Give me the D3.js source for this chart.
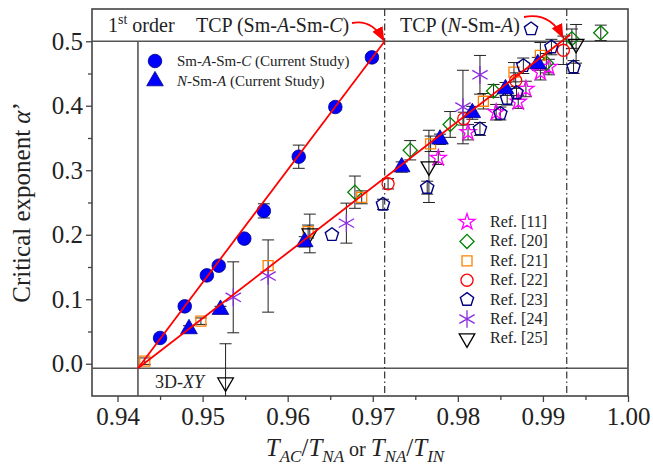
<!DOCTYPE html>
<html>
<head>
<meta charset="utf-8">
<script src="https://cdn.jsdelivr.net/npm/d3@7"></script>
<style>
  body { margin: 0; background: #fff; }
  text { font-family: "Liberation Serif", "Times New Roman", serif; fill: #222; }
</style>
</head>
<body>
<div id="chart"></div>
<script>
// [T ratio, alpha', error]
var smASmC = [[0.9450,0.040,0],[0.9479,0.089,0.005],[0.9505,0.137,0.005],[0.9519,0.152,0.005],[0.9549,0.194,0.005],
    [0.9572,0.237,0.011],[0.9613,0.321,0.018],[0.9656,0.398,0.005],[0.9699,0.475,0.005]]
var nSmA = [[0.9484,0.054,0.005],[0.9521,0.084,0.005],[0.9620,0.189,0.008],[0.9734,0.305,0.008],[0.9779,0.348,0.008],
    [0.9817,0.389,0.01],[0.9856,0.426,0.01],[0.9894,0.465,0.01]]
var ref11 = [[0.9777,0.319,0.01],[0.9812,0.359,0.012],[0.9845,0.390,0.012],[0.9871,0.406,0.01],[0.9880,0.426,0.012],
    [0.9897,0.452,0.012],[0.9907,0.460,0.012]]
var ref20 = [[0.9679,0.266,0.025],[0.9744,0.331,0.015],[0.9791,0.371,0.02],[0.9842,0.423,0.01],[0.9904,0.466,0.015],
    [0.9934,0.504,0.015],[0.9968,0.513,0.012]]
var ref21 = [[0.9432,0.004,0.005],[0.9498,0.066,0.005],[0.9577,0.152,0],[0.9624,0.205,0.01],[0.9687,0.258,0.01],
    [0.9768,0.341,0.012],[0.9830,0.407,0.012],[0.9866,0.452,0.015],[0.9897,0.478,0.02]]
var ref22 = [[0.9718,0.279,0.008],[0.9807,0.380,0.01],[0.9868,0.439,0.012],[0.9924,0.486,0.022]]
var ref23 = [[0.9652,0.200,0],[0.9712,0.247,0.008],[0.9764,0.273,0.01],[0.9826,0.364,0.01],[0.9850,0.388,0.01],
    [0.9858,0.411,0.01],[0.9869,0.420,0.01],[0.9877,0.462,0.012],[0.9910,0.491,0.012],[0.9936,0.460,0.01],[0.9886,0.519,0]]
var ref24 = [[0.9536,0.103,0.055],[0.9577,0.136,0.056],[0.9669,0.218,0.031],[0.9806,0.398,0.057],[0.9826,0.448,0.030]]
var ref25 = [[0.9527,-0.029,0.06],[0.9626,0.202,0.03],[0.9766,0.306,0.056],[0.9939,0.496,0.03]]

var fitSmC = [[0.9424,-0.007],[0.9714,0.5]]
var fitSmA = [[0.9424,-0.007],[0.9932,0.51]]
var firstOrderX = 0.9424, xyAlpha = -0.007, tcpAlpha = 0.5
var tcpSmC = 0.9714, tcpSmA = 0.9928

var xTicks = [0.94,0.95,0.96,0.97,0.98,0.99,1.00]
var yTicks = [0.0,0.1,0.2,0.3,0.4,0.5]

var W = 653, H = 472
var margin = {left: 92, top: 9, right: 25, bottom: 76}
var x = d3.scaleLinear().domain([0.937, 1.0]).range([margin.left, W - margin.right])
var y = d3.scaleLinear().domain([-0.05, 0.55]).range([H - margin.bottom, margin.top])

var svg = d3.select("#chart").append("svg").attr("width", W).attr("height", H)

svg.append("clipPath").attr("id", "plotclip").append("rect")
    .attr("x", x.range()[0]).attr("y", y.range()[1])
    .attr("width", x.range()[1] - x.range()[0]).attr("height", y.range()[0] - y.range()[1])

// axes, minor ticks at half steps
var isMajorX = function(d){ return xTicks.some(function(t){ return Math.abs(t - d) < 1e-6 }) }
var isMajorY = function(d){ return yTicks.some(function(t){ return Math.abs(t - d) < 1e-6 }) }
var xAxis = d3.axisBottom(x).tickValues(d3.range(0.94, 1.0001, 0.005)).tickSize(6)
    .tickFormat(function(d){ return isMajorX(d) ? d3.format(".2f")(d) : "" })
var gx = svg.append("g").attr("transform", "translate(0," + y.range()[0] + ")").call(xAxis)
gx.selectAll(".tick line").attr("y2", function(d){ return isMajorX(d) ? 6 : 4 })
var yAxis = d3.axisLeft(y).tickValues(d3.range(0, 0.5001, 0.05)).tickSize(6)
    .tickFormat(function(d){ return isMajorY(d) ? d3.format(".1f")(d) : "" })
var gy = svg.append("g").attr("transform", "translate(" + x.range()[0] + ",0)").call(yAxis)
gy.selectAll(".tick line").attr("x2", function(d){ return isMajorY(d) ? -6 : -4 })
svg.selectAll(".domain").remove()
svg.selectAll(".tick line").attr("stroke", "#444").attr("stroke-width", 1.3)
svg.selectAll(".tick text").style("font-size", "25px").attr("fill", "#222").style("font-family", "Liberation Serif")
gx.selectAll(".tick text").attr("dy", "0.85em").attr("y", 8)
gy.selectAll(".tick text").attr("x", -9)

svg.append("rect").attr("x", x.range()[0]).attr("y", y.range()[1])
    .attr("width", x.range()[1] - x.range()[0]).attr("height", y.range()[0] - y.range()[1])
    .attr("fill", "none").attr("stroke", "#444").attr("stroke-width", 1.6)

// reference lines
var refG = svg.append("g").attr("stroke", "#555").attr("stroke-width", 1.6)
refG.append("line").attr("x1", x.range()[0]).attr("x2", x.range()[1]).attr("y1", y(tcpAlpha)).attr("y2", y(tcpAlpha))
refG.append("line").attr("x1", x.range()[0]).attr("x2", x.range()[1]).attr("y1", y(xyAlpha)).attr("y2", y(xyAlpha))
refG.append("line").attr("x1", x(firstOrderX)).attr("x2", x(firstOrderX)).attr("y1", y(tcpAlpha)).attr("y2", y.range()[0])
;[tcpSmC, tcpSmA].forEach(function(t){
    svg.append("line").attr("x1", x(t)).attr("x2", x(t)).attr("y1", y.range()[1]).attr("y2", y.range()[0])
        .attr("stroke", "#333").attr("stroke-width", 1.2).attr("stroke-dasharray", "7,3,1.5,3")
})

// symbols
var pentagon = { draw: function(ctx, size){
    var r = Math.sqrt(size / 2.3776)
    for (var i = 0; i < 5; i++){
        var a = -Math.PI/2 + i * 2*Math.PI/5
        if (i === 0) ctx.moveTo(r*Math.cos(a), r*Math.sin(a)); else ctx.lineTo(r*Math.cos(a), r*Math.sin(a))
    }
    ctx.closePath()
}}
var asterisk = { draw: function(ctx, size){
    var r = Math.sqrt(size) / 1.6
    for (var i = 0; i < 3; i++){
        var a = -Math.PI/2 + i * Math.PI/3
        ctx.moveTo(r*Math.cos(a), r*Math.sin(a)); ctx.lineTo(-r*Math.cos(a), -r*Math.sin(a))
    }
}}

var series = [
    {data: smASmC, sym: d3.symbolCircle, size: 145, fill: "#0000ff", stroke: "#00008b", rot: 0, sw: 0.8},
    {data: nSmA, sym: d3.symbolTriangle, size: 120, fill: "#0000ff", stroke: "#00008b", rot: 0, sw: 0.8},
    {data: ref25, sym: d3.symbolTriangle, size: 105, fill: "none", stroke: "#000", rot: 180, sw: 1.3, name: "Ref. [25]"},
    {data: ref24, sym: asterisk, size: 200, fill: "none", stroke: "#8a2be2", rot: 0, sw: 1.3, name: "Ref. [24]"},
    {data: ref23, sym: pentagon, size: 115, fill: "none", stroke: "#000080", rot: 0, sw: 1.4, name: "Ref. [23]"},
    {data: ref22, sym: d3.symbolCircle, size: 115, fill: "none", stroke: "#ff0000", rot: 0, sw: 1.3, name: "Ref. [22]"},
    {data: ref21, sym: d3.symbolSquare, size: 100, fill: "none", stroke: "#ff8000", rot: 0, sw: 1.3, name: "Ref. [21]"},
    {data: ref20, sym: d3.symbolSquare, size: 100, fill: "none", stroke: "#008000", rot: 45, sw: 1.3, name: "Ref. [20]"},
    {data: ref11, sym: d3.symbolStar, size: 80, fill: "none", stroke: "#ff00ff", rot: 0, sw: 1.3, name: "Ref. [11]"}
]

var plot = svg.append("g").attr("clip-path", "url(#plotclip)")

// error bars
series.forEach(function(s){
    var eb = plot.append("g").attr("stroke", "#222").attr("stroke-width", 1)
    s.data.filter(function(d){ return d[2] > 0 }).forEach(function(d){
        var cx = x(d[0]), t = y(d[1] + d[2]), b = y(d[1] - d[2])
        eb.append("line").attr("x1", cx).attr("x2", cx).attr("y1", t).attr("y2", b)
        eb.append("line").attr("x1", cx - 6).attr("x2", cx + 6).attr("y1", t).attr("y2", t)
        eb.append("line").attr("x1", cx - 6).attr("x2", cx + 6).attr("y1", b).attr("y2", b)
    })
})

function drawSym(g, s, cx, cy){
    g.append("path").attr("d", d3.symbol().type(s.sym).size(s.size)())
        .attr("transform", "translate(" + cx + "," + cy + ") rotate(" + s.rot + ")")
        .attr("fill", s.fill).attr("stroke", s.stroke).attr("stroke-width", s.sw)
}
series.slice().reverse().forEach(function(s){
    s.data.forEach(function(d){ drawSym(plot, s, x(d[0]), y(d[1])) })
})

// fit lines
var line = d3.line().x(function(d){ return x(d[0]) }).y(function(d){ return y(d[1]) })
;[fitSmC, fitSmA].forEach(function(f){
    plot.append("path").attr("d", line(f)).attr("fill", "none").attr("stroke", "#ff0000").attr("stroke-width", 1.8)
})

// annotations
svg.append("defs").append("marker").attr("id", "arr").attr("viewBox", "0 0 10 10")
    .attr("refX", 9).attr("refY", 5).attr("markerWidth", 8).attr("markerHeight", 8).attr("orient", "auto")
    .append("path").attr("d", "M0,1 L10,5 L0,9 z").attr("fill", "#ff0000")
svg.append("path").attr("d", "M352,23 Q372,19 " + (x(tcpSmC) - 1) + "," + (y(tcpAlpha) - 1))
    .attr("fill", "none").attr("stroke", "#ff0000").attr("stroke-width", 1.8).attr("marker-end", "url(#arr)")
svg.append("path").attr("d", "M524,17 Q550,12 " + (x(tcpSmA) - 4) + "," + (y(tcpAlpha) - 4))
    .attr("fill", "none").attr("stroke", "#ff0000").attr("stroke-width", 1.8).attr("marker-end", "url(#arr)")

var t1 = svg.append("text").attr("x", 108).attr("y", 32).style("font-size", "20px")
t1.append("tspan").text("1")
t1.append("tspan").attr("dy", -8).style("font-size", "14px").text("st")
t1.append("tspan").attr("dy", 8).text(" order")

var t2 = svg.append("text").attr("x", 196).attr("y", 32).style("font-size", "20px")
t2.append("tspan").text("TCP (Sm-")
t2.append("tspan").style("font-style", "italic").text("A")
t2.append("tspan").text("-Sm-")
t2.append("tspan").style("font-style", "italic").text("C")
t2.append("tspan").text(")")

var t3 = svg.append("text").attr("x", 400).attr("y", 32).style("font-size", "20px")
t3.append("tspan").text("TCP (")
t3.append("tspan").style("font-style", "italic").text("N")
t3.append("tspan").text("-Sm-")
t3.append("tspan").style("font-style", "italic").text("A")
t3.append("tspan").text(")")

var t4 = svg.append("text").attr("x", 155).attr("y", 388).style("font-size", "18px")
t4.append("tspan").text("3D-")
t4.append("tspan").style("font-style", "italic").text("XY")

// legends
var leg1 = svg.append("g").style("font-size", "15px")
drawSym(leg1, series[0], 155, 61)
drawSym(leg1, series[1], 155, 81)
var l1 = leg1.append("text").attr("x", 177).attr("y", 66)
l1.append("tspan").text("Sm-")
l1.append("tspan").style("font-style", "italic").text("A")
l1.append("tspan").text("-Sm-")
l1.append("tspan").style("font-style", "italic").text("C")
l1.append("tspan").text(" (Current Study)")
var l2 = leg1.append("text").attr("x", 177).attr("y", 86)
l2.append("tspan").style("font-style", "italic").text("N")
l2.append("tspan").text("-Sm-")
l2.append("tspan").style("font-style", "italic").text("A")
l2.append("tspan").text(" (Current Study)")

var leg2 = svg.append("g").style("font-size", "16px")
series.slice(2).reverse().forEach(function(s, i){
    var ly = 222 + i * 19.4
    drawSym(leg2, s, 467, ly)
    leg2.append("text").attr("x", 490).attr("y", ly + 5).text(s.name)
})

// axis titles
var xt = svg.append("text").attr("x", 355).attr("y", 456).attr("text-anchor", "middle").style("font-size", "25px")
xt.append("tspan").style("font-style", "italic").text("T")
xt.append("tspan").attr("dy", 6).style("font-style", "italic").style("font-size", "17px").text("AC")
xt.append("tspan").attr("dy", -6).text("/")
xt.append("tspan").style("font-style", "italic").text("T")
xt.append("tspan").attr("dy", 6).style("font-style", "italic").style("font-size", "17px").text("NA")
xt.append("tspan").attr("dy", -6).style("font-size", "20px").text(" or ")
xt.append("tspan").style("font-style", "italic").text("T")
xt.append("tspan").attr("dy", 6).style("font-style", "italic").style("font-size", "17px").text("NA")
xt.append("tspan").attr("dy", -6).text("/")
xt.append("tspan").style("font-style", "italic").text("T")
xt.append("tspan").attr("dy", 6).style("font-style", "italic").style("font-size", "17px").text("IN")

var yt = svg.append("text").attr("transform", "translate(30," + y(0.25) + ") rotate(-90)")
    .attr("text-anchor", "middle").style("font-size", "25px")
yt.append("tspan").text("Critical exponent  ")
yt.append("tspan").style("font-style", "italic").text("α")
yt.append("tspan").text("’")
</script>
</body>
</html>
